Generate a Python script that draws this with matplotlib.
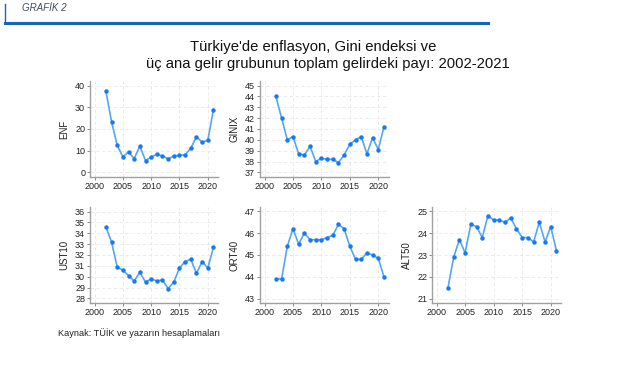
import matplotlib
matplotlib.use("Agg")
import matplotlib.pyplot as plt
from matplotlib.lines import Line2D

plt.rcParams['font.family'] = ['Liberation Sans', 'DejaVu Sans']

years = list(range(2002, 2022))
enf = [37.6, 23.4, 12.5, 7.1, 9.4, 6.3, 12.1, 5.4, 7.0, 8.3, 7.5, 6.3, 7.4, 7.8, 8.1, 11.1, 16.5, 13.8, 14.8, 29.0]
ginix = [44.0, 42.0, 40.0, 40.3, 38.7, 38.6, 39.4, 38.0, 38.3, 38.2, 38.2, 37.9, 38.6, 39.6, 40.0, 40.3, 38.7, 40.2, 39.1, 41.2]
ust10 = [34.6, 33.2, 30.9, 30.6, 30.1, 29.6, 30.4, 29.5, 29.8, 29.6, 29.7, 28.9, 29.5, 30.8, 31.4, 31.6, 30.3, 31.4, 30.8, 32.7]
ort40 = [43.9, 43.9, 45.4, 46.2, 45.5, 46.0, 45.7, 45.7, 45.7, 45.8, 45.9, 46.4, 46.2, 45.4, 44.8, 44.8, 45.1, 45.0, 44.85, 44.0]
alt50 = [21.5, 22.9, 23.7, 23.1, 24.4, 24.3, 23.8, 24.8, 24.6, 24.6, 24.5, 24.7, 24.2, 23.8, 23.8, 23.6, 24.5, 23.6, 24.3, 23.2]

xticks = [2000, 2005, 2010, 2015, 2020]

W, H = 626, 366
fig = plt.figure(figsize=(W / 100, H / 100), dpi=100)

def px_axes(left, top, right, bottom):
    return fig.add_axes([left / W, 1 - bottom / H, (right - left) / W, (bottom - top) / H])

panels = [
    ("ENF", enf, (90, 81, 218, 177), list(range(0, 41, 10)), (-2.2, 42.2)),
    ("GINIX", ginix, (260, 81, 388.5, 177), list(range(37, 46)), (36.57, 45.43)),
    ("UST10", ust10, (90, 207, 218, 303), list(range(28, 37)), (27.57, 36.43)),
    ("ORT40", ort40, (260, 207, 388.5, 303), list(range(43, 48)), (42.8, 47.2)),
    ("ALT50", alt50, (432, 207, 561, 303), list(range(21, 26)), (20.8, 25.2)),
]

for name, vals, (l, t, r, b), yt, ylim in panels:
    ax = px_axes(l, t, r, b)
    ax.plot(years, vals, color='#55a6f5', lw=1.2, zorder=3)
    ax.plot(years, vals, 'o', color='#1a78f0', ms=3.2, mew=0, zorder=4)
    ax.set_xlim(1999.2, 2021.8)
    ax.set_ylim(*ylim)
    ax.set_xticks(xticks)
    ax.set_yticks(yt)
    ax.grid(True, color='#e8e8e8', lw=0.6, ls=(0, (4, 3)))
    ax.set_axisbelow(True)
    for s in ['top', 'right']:
        ax.spines[s].set_visible(False)
    for s in ['left', 'bottom']:
        ax.spines[s].set_color('#a0a0a0')
        ax.spines[s].set_linewidth(1.0)
    ax.tick_params(axis='both', labelsize=6.5, length=2, width=0.6, color='#777777',
                   pad=1.5, labelcolor='#222222')
    ax.set_ylabel(name, fontsize=7, labelpad=4, color='#222222')

fig.text(313 / W, 1 - 47 / H, "Türkiye'de enflasyon, Gini endeksi ve", ha='center', va='center',
         fontsize=10.7, color='#111111')
fig.text(328 / W, 1 - 64 / H, "üç ana gelir grubunun toplam gelirdeki payı: 2002-2021", ha='center',
         va='center', fontsize=10.6, color='#111111')
fig.text(58 / W, 1 - 333 / H, "Kaynak: TÜİK ve yazarın hesaplamaları", ha='left', va='center',
         fontsize=6.6, color='#222222')
fig.text(22 / W, 1 - 8 / H, "GRAFİK 2", ha='left', va='center', fontsize=7, style='italic',
         color='#444a5a')

fig.add_artist(Line2D([5 / W, 5 / W], [1 - 4 / H, 1 - 23 / H], color='#1565b8', lw=1.0))
fig.add_artist(Line2D([5 / W, 488 / W], [1 - 23 / H, 1 - 23 / H], color='#1565b8', lw=2.2))

fig.savefig("out.png", dpi=100)
